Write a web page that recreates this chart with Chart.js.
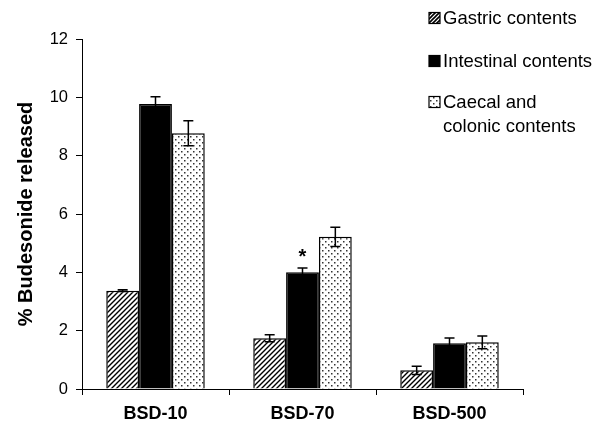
<!DOCTYPE html>
<html>
<head>
<meta charset="utf-8">
<script src="https://cdn.jsdelivr.net/npm/chart.js@4/dist/chart.umd.min.js"></script>
<style>
  html, body { margin: 0; padding: 0; background: #fff; }
  #wrap { width: 607px; height: 422px; }
</style>
</head>
<body>
<div id="wrap"><canvas id="chart" width="607" height="422"></canvas></div>
<script>
const categories = ['BSD-10', 'BSD-70', 'BSD-500'];
const gastric = [3.37, 1.74, 0.64];
const gastricErr = [0.03, 0.12, 0.14];
const intestinal = [9.77, 4.0, 1.57];
const intestinalErr = [0.25, 0.15, 0.18];
const caecal = [8.77, 5.22, 1.6];
const caecalErr = [0.43, 0.33, 0.22];
const seriesNames = ['Gastric contents', 'Intestinal contents', ['Caecal and', 'colonic contents']];
const yTicks = [0, 2, 4, 6, 8, 10, 12];
// [dataset index, category index] marked with *
const marked = [[1, 1]];

const FONT = '"Liberation Sans", Arial, sans-serif';

function hatchPattern(size, lw) {
  const c = document.createElement('canvas');
  c.width = size; c.height = size;
  const g = c.getContext('2d');
  g.fillStyle = '#fff';
  g.fillRect(0, 0, size, size);
  g.strokeStyle = '#000';
  g.lineWidth = lw;
  g.beginPath();
  g.moveTo(-1, size + 1); g.lineTo(size + 1, -1);
  g.moveTo(-1, 1); g.lineTo(1, -1);
  g.moveTo(size - 1, size + 1); g.lineTo(size + 1, size - 1);
  g.stroke();
  return g.createPattern(c, 'repeat');
}

function dotPattern() {
  const c = document.createElement('canvas');
  c.width = 6; c.height = 6;
  const g = c.getContext('2d');
  g.fillStyle = '#fff';
  g.fillRect(0, 0, 6, 6);
  g.fillStyle = '#333';
  g.fillRect(1, 1, 1.5, 1.5);
  g.fillRect(4, 4, 1.5, 1.5);
  return g.createPattern(c, 'repeat');
}

const fills = [hatchPattern(5, 1.4), '#000', dotPattern()];
const errs = [gastricErr, intestinalErr, caecalErr];

const extras = {
  id: 'extras',
  beforeDraw(chart) {
    const ctx = chart.ctx;
    ctx.save();
    ctx.fillStyle = '#fff';
    ctx.fillRect(0, 0, chart.width, chart.height);
    ctx.restore();
  },
  afterDatasetsDraw(chart) {
    const ctx = chart.ctx;
    const y = chart.scales.y;
    ctx.save();
    ctx.strokeStyle = '#000';
    ctx.lineWidth = 1.5;
    chart.data.datasets.forEach((ds, di) => {
      chart.getDatasetMeta(di).data.forEach((bar, i) => {
        const v = ds.data[i], e = errs[di][i];
        const top = y.getPixelForValue(v + e);
        const bot = y.getPixelForValue(v - e);
        ctx.beginPath();
        ctx.moveTo(bar.x, top); ctx.lineTo(bar.x, bot);
        ctx.moveTo(bar.x - 5, top); ctx.lineTo(bar.x + 5, top);
        ctx.moveTo(bar.x - 5, bot); ctx.lineTo(bar.x + 5, bot);
        ctx.stroke();
      });
    });
    ctx.fillStyle = '#000';
    ctx.font = 'bold 20px ' + FONT;
    ctx.textAlign = 'center';
    ctx.textBaseline = 'alphabetic';
    marked.forEach(([di, i]) => {
      const bar = chart.getDatasetMeta(di).data[i];
      const v = chart.data.datasets[di].data[i] + errs[di][i];
      ctx.fillText('*', bar.x, y.getPixelForValue(v) - 5);
    });
    ctx.restore();
  },
  afterDraw(chart) {
    const ctx = chart.ctx;
    ctx.save();
    ctx.font = '18.5px ' + FONT;
    ctx.textBaseline = 'middle';
    ctx.textAlign = 'left';
    const rows = [18, 61, 102];
    const legendFills = [hatchPattern(4, 1.6), '#000', dotPattern()];
    seriesNames.forEach((name, k) => {
      const cy = rows[k];
      ctx.fillStyle = legendFills[k];
      ctx.fillRect(429, cy - 5.5, 11, 11);
      ctx.strokeStyle = '#000';
      ctx.lineWidth = 1.2;
      ctx.strokeRect(429, cy - 5.5, 11, 11);
      ctx.fillStyle = '#000';
      const lines = Array.isArray(name) ? name : [name];
      lines.forEach((t, j) => ctx.fillText(t, 443, cy + 1 + j * 24));
    });
    ctx.restore();
  }
};

new Chart(document.getElementById('chart'), {
  type: 'bar',
  data: {
    labels: categories,
    datasets: [
      { label: 'Gastric contents', data: gastric },
      { label: 'Intestinal contents', data: intestinal },
      { label: 'Caecal and colonic contents', data: caecal }
    ].map((d, i) => ({
      ...d,
      backgroundColor: fills[i],
      borderColor: '#000',
      borderWidth: 1.5,
      borderSkipped: 'bottom',
      barPercentage: 1,
      categoryPercentage: 0.67
    }))
  },
  options: {
    responsive: false,
    animation: false,
    layout: { padding: { top: 39, right: 84, left: 0, bottom: 0 } },
    plugins: { legend: { display: false }, tooltip: { enabled: false } },
    scales: {
      x: {
        offset: true,
        border: { color: '#000', width: 1 },
        grid: { offset: true, drawOnChartArea: false, color: '#000', tickLength: 6 },
        ticks: { color: '#000', padding: 8, font: { family: FONT, size: 18, weight: 'bold' } },
        afterFit: s => { s.height = 33; }
      },
      y: {
        min: 0,
        max: 12,
        afterBuildTicks: s => { s.ticks = yTicks.map(v => ({ value: v })); },
        border: { color: '#000', width: 1 },
        grid: { drawOnChartArea: false, color: '#000', tickLength: 6 },
        ticks: { color: '#000', padding: 8, font: { family: FONT, size: 16.5 } },
        title: {
          display: true,
          text: '% Budesonide released',
          color: '#000',
          padding: { top: 14, bottom: 0 },
          font: { family: FONT, size: 20, weight: 'bold' }
        },
        afterFit: s => { s.width = 82; }
      }
    }
  },
  plugins: [extras]
});
</script>
</body>
</html>
